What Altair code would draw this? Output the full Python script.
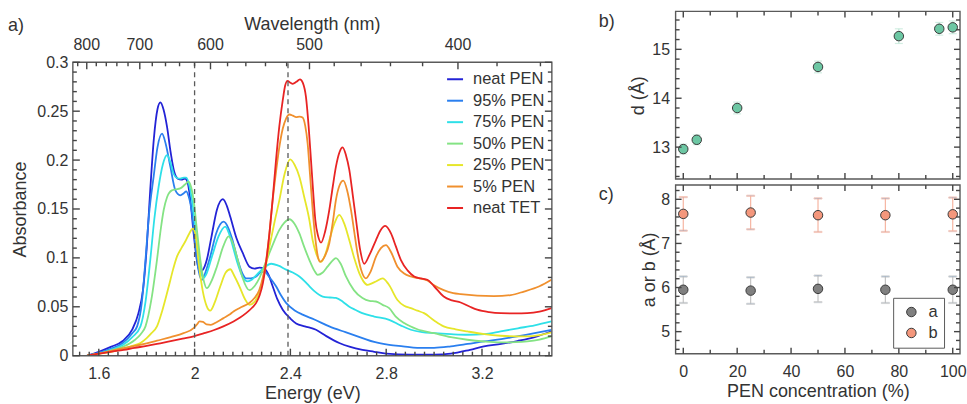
import altair as alt
import pandas as pd

FONT = "Liberation Sans"
TXT = "#333333"
FRAME = "#5a5a5a"

# ---------------- panel a : absorption spectra ----------------
series_names = ["neat PEN", "95% PEN", "75% PEN", "50% PEN", "25% PEN", "5% PEN", "neat TET"]
series_colors = ["#2323d6", "#2a7fef", "#2ee0e8", "#84e384", "#e6e62a", "#f0902e", "#e82424"]

neat_pen_E = [1.551, 1.60, 1.65, 1.70, 1.74, 1.765, 1.785, 1.80, 1.815, 1.83, 1.845, 1.857, 1.87, 1.885, 1.90,
              1.915, 1.93, 1.945, 1.96, 1.97, 1.982, 1.996, 2.010, 2.021, 2.035, 2.051, 2.07, 2.093, 2.118, 2.135,
              2.149, 2.175, 2.201, 2.229, 2.25, 2.271, 2.29, 2.31, 2.326, 2.345, 2.368, 2.40, 2.424, 2.46, 2.507,
              2.55, 2.604, 2.65, 2.701, 2.75, 2.80, 2.9, 3.0, 3.07, 3.15, 3.208, 3.28, 3.347, 3.42, 3.49]
neat_pen_A = [0.000, 0.004, 0.009, 0.015, 0.027, 0.043, 0.068, 0.110, 0.170, 0.222, 0.252, 0.259, 0.252, 0.234, 0.208,
              0.188, 0.181, 0.180, 0.181, 0.178, 0.160, 0.125, 0.097, 0.086, 0.088, 0.098, 0.121, 0.149, 0.160, 0.153,
              0.142, 0.120, 0.105, 0.091, 0.089, 0.090, 0.089, 0.082, 0.071, 0.058, 0.047, 0.038, 0.033, 0.030, 0.0265,
              0.020, 0.013, 0.009, 0.006, 0.004, 0.002, 0.001, 0.001, 0.002, 0.006, 0.0095, 0.012, 0.015, 0.019, 0.025]

pen95_E = [1.551, 1.60, 1.65, 1.70, 1.74, 1.76, 1.78, 1.795, 1.81, 1.829, 1.845, 1.864, 1.88, 1.899, 1.92, 1.94,
           1.955, 1.965, 1.975, 1.989, 2.00, 2.01, 2.03, 2.045, 2.065, 2.09, 2.121, 2.14, 2.156, 2.18, 2.20, 2.215,
           2.235, 2.257, 2.275, 2.292, 2.31, 2.34, 2.36, 2.382, 2.42, 2.451, 2.50, 2.5625, 2.63, 2.701, 2.75,
           2.8125, 2.87, 2.93, 3.0, 3.07, 3.14, 3.208, 3.28, 3.347, 3.42, 3.49]
pen95_A = [0.000, 0.003, 0.007, 0.013, 0.023, 0.030, 0.055, 0.098, 0.145, 0.183, 0.213, 0.227, 0.216, 0.193, 0.169,
           0.164, 0.166, 0.168, 0.163, 0.146, 0.122, 0.098, 0.0775, 0.085, 0.101, 0.125, 0.137, 0.131, 0.120, 0.098,
           0.084, 0.079, 0.079, 0.081, 0.085, 0.086, 0.081, 0.071, 0.062, 0.054, 0.046, 0.042, 0.037, 0.030, 0.024,
           0.018, 0.014, 0.011, 0.0095, 0.008, 0.008, 0.0095, 0.012, 0.0146, 0.017, 0.0197, 0.023, 0.0265]

pen75_E = [1.551, 1.60, 1.65, 1.70, 1.74, 1.774, 1.795, 1.815, 1.832, 1.85, 1.868, 1.885, 1.90, 1.9125, 1.925, 1.94,
           1.955, 1.965, 1.978, 1.989, 2.00, 2.01, 2.022, 2.035, 2.05, 2.072, 2.10, 2.128, 2.145, 2.16, 2.18, 2.20,
           2.222, 2.24, 2.264, 2.29, 2.32, 2.35, 2.382, 2.41, 2.4375, 2.46, 2.479, 2.50, 2.535, 2.565, 2.59, 2.62,
           2.646, 2.67, 2.70, 2.75, 2.8125, 2.86, 2.903, 2.95, 3.0, 3.07, 3.139, 3.21, 3.278, 3.35, 3.42, 3.49]
pen75_A = [0.000, 0.002, 0.006, 0.011, 0.019, 0.030, 0.055, 0.098, 0.140, 0.173, 0.196, 0.205, 0.197, 0.186, 0.182,
           0.181, 0.182, 0.182, 0.174, 0.159, 0.138, 0.115, 0.093, 0.079, 0.084, 0.101, 0.122, 0.132, 0.124, 0.1115,
           0.094, 0.081, 0.076, 0.078, 0.084, 0.090, 0.094, 0.092, 0.088, 0.085, 0.081, 0.076, 0.071, 0.066, 0.0605,
           0.0595, 0.059, 0.055, 0.050, 0.047, 0.0435, 0.040, 0.0367, 0.031, 0.0265, 0.024, 0.023, 0.022, 0.0214,
           0.022, 0.0248, 0.028, 0.031, 0.035]

pen50_E = [1.551, 1.60, 1.65, 1.70, 1.75, 1.775, 1.795, 1.82, 1.843, 1.858, 1.871, 1.885, 1.905, 1.92, 1.94, 1.96,
           1.975, 1.986, 1.996, 2.01, 2.024, 2.038, 2.051, 2.07, 2.093, 2.12, 2.142, 2.16, 2.18, 2.20, 2.229, 2.25,
           2.27, 2.29, 2.3125, 2.334, 2.354, 2.375, 2.396, 2.417, 2.4375, 2.458, 2.479, 2.50, 2.514, 2.535, 2.555,
           2.575, 2.59, 2.61, 2.632, 2.665, 2.701, 2.73, 2.757, 2.785, 2.8125, 2.84, 2.875, 2.93, 3.0, 3.07, 3.139,
           3.21, 3.278, 3.34, 3.389, 3.44, 3.49]
pen50_A = [0.000, 0.002, 0.005, 0.009, 0.016, 0.022, 0.030, 0.058, 0.098, 0.128, 0.149, 0.162, 0.169, 0.170, 0.171,
           0.175, 0.178, 0.172, 0.159, 0.128, 0.098, 0.077, 0.069, 0.076, 0.091, 0.112, 0.122, 0.115, 0.098, 0.080,
           0.067, 0.071, 0.079, 0.091, 0.105, 0.118, 0.1286, 0.136, 0.1395, 0.135, 0.125, 0.111, 0.098, 0.087, 0.0826,
           0.085, 0.091, 0.097, 0.0997, 0.094, 0.081, 0.067, 0.0589, 0.056, 0.0554, 0.052, 0.0486, 0.040, 0.0333,
           0.027, 0.023, 0.019, 0.0163, 0.0145, 0.0136, 0.0138, 0.0146, 0.0165, 0.0197]

pen25_E = [1.551, 1.60, 1.65, 1.70, 1.74, 1.774, 1.80, 1.82, 1.843, 1.865, 1.892, 1.91, 1.926, 1.945, 1.961, 1.978,
           1.992, 2.003, 2.017, 2.035, 2.05, 2.065, 2.085, 2.107, 2.13, 2.149, 2.165, 2.1875, 2.21, 2.229, 2.25, 2.27,
           2.29, 2.3125, 2.334, 2.354, 2.375, 2.399, 2.418, 2.4375, 2.458, 2.479, 2.493, 2.507, 2.528, 2.545, 2.5625,
           2.585, 2.604, 2.625, 2.646, 2.6675, 2.6875, 2.705, 2.722, 2.74, 2.757, 2.785, 2.81, 2.847, 2.875, 2.903,
           2.93, 2.958, 3.0, 3.04, 3.09, 3.139, 3.21, 3.278, 3.34, 3.389, 3.44, 3.49]
pen25_A = [0.000, 0.002, 0.004, 0.007, 0.010, 0.013, 0.018, 0.023, 0.030, 0.046, 0.0707, 0.088, 0.101, 0.110, 0.1167,
           0.125, 0.130, 0.125, 0.095, 0.065, 0.051, 0.046, 0.055, 0.0707, 0.085, 0.0884, 0.082, 0.0707, 0.058, 0.052,
           0.055, 0.064, 0.083, 0.1115, 0.137, 0.159, 0.185, 0.2007, 0.195, 0.183, 0.162, 0.139, 0.118, 0.105, 0.096,
           0.103, 0.118, 0.136, 0.144, 0.135, 0.118, 0.099, 0.0844, 0.076, 0.0724, 0.074, 0.0759, 0.079, 0.073, 0.057,
           0.051, 0.0486, 0.046, 0.0435, 0.036, 0.030, 0.027, 0.0248, 0.022, 0.0204, 0.0198, 0.0197, 0.021, 0.0238]

pen5_E = [1.551, 1.60, 1.65, 1.704, 1.75, 1.80, 1.843, 1.90, 1.954, 1.996, 2.01, 2.021, 2.035, 2.05, 2.068, 2.09,
          2.121, 2.146, 2.1625, 2.19, 2.229, 2.25, 2.27, 2.285, 2.299, 2.3125, 2.326, 2.34, 2.354, 2.368, 2.382,
          2.396, 2.41, 2.424, 2.438, 2.451, 2.462, 2.472, 2.482, 2.493, 2.505, 2.515, 2.524, 2.54, 2.5625, 2.578,
          2.59, 2.605, 2.621, 2.637, 2.653, 2.667, 2.68, 2.695, 2.715, 2.735, 2.757, 2.778, 2.799, 2.82, 2.847,
          2.875, 2.903, 2.94, 2.972, 3.0, 3.04, 3.08, 3.111, 3.18, 3.25, 3.32, 3.375, 3.44, 3.49]
pen5_A = [0.000, 0.002, 0.005, 0.0078, 0.010, 0.0125, 0.0153, 0.019, 0.023, 0.0282, 0.032, 0.035, 0.0345, 0.032,
          0.0316, 0.034, 0.0384, 0.042, 0.0452, 0.049, 0.054, 0.059, 0.067, 0.080, 0.098, 0.125, 0.159, 0.188, 0.2136,
          0.232, 0.2425, 0.2466, 0.2455, 0.244, 0.2445, 0.2435, 0.235, 0.217, 0.185, 0.149, 0.118, 0.101, 0.096,
          0.100, 0.115, 0.138, 0.159, 0.174, 0.179, 0.169, 0.149, 0.126, 0.105, 0.088, 0.079, 0.086, 0.101, 0.110,
          0.113, 0.106, 0.091, 0.084, 0.081, 0.079, 0.077, 0.072, 0.067, 0.064, 0.063, 0.0615, 0.061, 0.062, 0.0656,
          0.071, 0.0776]

tet_E = [1.551, 1.60, 1.65, 1.704, 1.75, 1.80, 1.843, 1.90, 1.95, 1.996, 2.04, 2.079, 2.12, 2.1625, 2.19, 2.215,
         2.24, 2.257, 2.272, 2.285, 2.30, 2.3125, 2.326, 2.34, 2.354, 2.368, 2.378, 2.388, 2.40, 2.41, 2.425, 2.440,
         2.452, 2.465, 2.476, 2.486, 2.495, 2.504, 2.516, 2.528, 2.545, 2.5625, 2.577, 2.59, 2.605, 2.618, 2.632,
         2.646, 2.66, 2.674, 2.69, 2.708, 2.73, 2.757, 2.776, 2.796, 2.82, 2.84, 2.861, 2.89, 2.917, 2.945, 2.972,
         3.0, 3.04, 3.075, 3.111, 3.15, 3.18, 3.23, 3.278, 3.34, 3.389, 3.44, 3.49]
tet_A = [0.000, 0.002, 0.004, 0.006, 0.008, 0.010, 0.012, 0.015, 0.0175, 0.0197, 0.023, 0.026, 0.030, 0.035, 0.039,
         0.0435, 0.049, 0.054, 0.062, 0.074, 0.098, 0.125, 0.160, 0.200, 0.235, 0.261, 0.276, 0.281, 0.279, 0.278,
         0.280, 0.2826, 0.279, 0.2646, 0.235, 0.200, 0.168, 0.139, 0.122, 0.1157, 0.127, 0.149, 0.173, 0.193, 0.208,
         0.213, 0.205, 0.190, 0.165, 0.139, 0.110, 0.094, 0.103, 0.118, 0.128, 0.1327, 0.125, 0.112, 0.098, 0.087,
         0.081, 0.079, 0.0776, 0.071, 0.0605, 0.0565, 0.0544, 0.050, 0.047, 0.0445, 0.0435, 0.0433, 0.0435, 0.045,
         0.0486]

spectra = [(neat_pen_E, neat_pen_A), (pen95_E, pen95_A), (pen75_E, pen75_A), (pen50_E, pen50_A),
           (pen25_E, pen25_A), (pen5_E, pen5_A), (tet_E, tet_A)]

dash_E = [2.0, 2.39]
energy_ticks = [1.6, 2.0, 2.4, 2.8, 3.2]
abs_ticks = [0, 0.05, 0.1, 0.15, 0.2, 0.25, 0.3]
wavelength_labels = [800, 700, 600, 500, 400]

# ---------------- panel b : d spacing ----------------
pen_b = [0, 5, 20, 50, 80, 95, 100]
d_val = [12.96, 13.15, 13.80, 14.64, 15.27, 15.42, 15.45]
d_err = [0.10, 0.10, 0.12, 0.12, 0.15, 0.13, 0.13]

# ---------------- panel c : a and b lattice ----------------
pen_c = [0, 25, 50, 75, 100]
a_val = [5.95, 5.93, 5.97, 5.95, 5.95]
a_err = [0.30, 0.30, 0.30, 0.30, 0.30]
b_val = [7.67, 7.70, 7.64, 7.64, 7.66]
b_err = [0.38, 0.38, 0.38, 0.38, 0.38]

# ---------------- geometry ----------------
TOP_A = 51            # room above panel a frame for the wavelength axis
WA, HA = 480, 294
HA_FULL = HA + TOP_A
WB, HB = 285, 168
WC, HC = 285, 169

EMIN, EMAX = 1.4917, 3.4917
BCMIN, BCMAX = -2.85, 102.7
DMIN, DMAX = 12.347, 15.776
CMIN, CMAX = 4.50, 8.324

xs_a = alt.Scale(domain=[EMIN, EMAX], nice=False, zero=False)
ys_a = alt.Scale(domain=[0, 0.3], range=[HA_FULL, TOP_A], nice=False, zero=False)
xs_bc = alt.Scale(domain=[BCMIN, BCMAX], nice=False, zero=False)
ys_b = alt.Scale(domain=[DMIN, DMAX], nice=False, zero=False)
ys_c = alt.Scale(domain=[CMIN, CMAX], nice=False, zero=False)

LAB = 16
TIT = 18
TICK_COLOR = "#444444"

ax_a_x = alt.Axis(values=energy_ticks, format="~g", ticks=False, domain=False, labelPadding=10,
                  title="Energy (eV)", titlePadding=3, labelFlush=False, labelOverlap=False, grid=False)
ax_a_y = alt.Axis(values=abs_ticks, format="~g", ticks=False, domain=False, labelPadding=5,
                  title="Absorbance", titlePadding=7, labelFlush=False, labelOverlap=False, grid=False)
ax_b_y = alt.Axis(values=[13, 14, 15], ticks=False, domain=False, labelPadding=6, title="d (Å)",
                  titlePadding=4, labelFlush=False, labelOverlap=False, grid=False)
ax_c_x = alt.Axis(values=[0, 20, 40, 60, 80, 100], ticks=False, domain=False, labelPadding=10,
                  title="PEN concentration (%)", titlePadding=3, labelFlush=False, labelOverlap=False, grid=False)
ax_c_y = alt.Axis(values=[5, 6, 7, 8], ticks=False, domain=False, labelPadding=6, title="a or b (Å)",
                  titlePadding=2, labelFlush=False, labelOverlap=False, grid=False)


def grid(lo, hi, step):
    n = int(round((hi - lo) / step))
    return [round(lo + i * step, 6) for i in range(n + 1)]


def minor_only(vals, major_step):
    return [v for v in vals if abs(round(v / major_step) * major_step - v) > 1e-6]


def edge_ticks(vals, side, size, xs, xax, ys, yax, x0, x1, y0, y1):
    """inward tick marks on one side of a frame whose pixel box is x0..x1, y0..y1"""
    df = pd.DataFrame({"v": list(vals)})
    if side in ("left", "right"):
        xc = x0 + size / 2.0 if side == "left" else x1 - size / 2.0
        return alt.Chart(df).mark_tick(color=TICK_COLOR, orient="horizontal", size=size, thickness=1.4,
                                       opacity=1).encode(
            y=alt.Y("v:Q", scale=ys, axis=yax), x=alt.value(xc))
    yc = y0 + size / 2.0 if side == "top" else y1 - size / 2.0
    return alt.Chart(df).mark_tick(color=TICK_COLOR, orient="vertical", size=size, thickness=1.4,
                                   opacity=1).encode(
        x=alt.X("v:Q", scale=xs, axis=xax), y=alt.value(yc))


def frame_layers(xdom, ydom, xs, xax, ys, yax, box, xmaj, xmin, ymaj, ymin, xtop_maj=None, xtop_min=None,
                 big=7, small=4):
    x0, x1, y0, y1 = box
    fr = pd.DataFrame({"xa": [xdom[0]], "xb": [xdom[1]], "ya": [ydom[0]], "yb": [ydom[1]]})
    layers = [alt.Chart(fr).mark_rect(fill="transparent", stroke=FRAME, strokeWidth=1.4).encode(
        x=alt.X("xa:Q", scale=xs, axis=xax), x2="xb:Q", y=alt.Y("ya:Q", scale=ys, axis=yax), y2="yb:Q")]
    for side in ("left", "right"):
        layers.append(edge_ticks(ymaj, side, big, xs, xax, ys, yax, x0, x1, y0, y1))
        layers.append(edge_ticks(ymin, side, small, xs, xax, ys, yax, x0, x1, y0, y1))
    layers.append(edge_ticks(xmaj, "bottom", big, xs, xax, ys, yax, x0, x1, y0, y1))
    layers.append(edge_ticks(xmin, "bottom", small, xs, xax, ys, yax, x0, x1, y0, y1))
    layers.append(edge_ticks(xtop_maj if xtop_maj is not None else xmaj, "top", big, xs, xax, ys, yax,
                             x0, x1, y0, y1))
    layers.append(edge_ticks(xtop_min if xtop_min is not None else xmin, "top", small, xs, xax, ys, yax,
                             x0, x1, y0, y1))
    return layers


def text_layer(text, x, y, size, align="left"):
    return alt.Chart(pd.DataFrame({"t": [text]})).mark_text(
        font=FONT, fontSize=size, color=TXT, align=align, baseline="middle"
    ).encode(text="t:N", x=alt.value(x), y=alt.value(y))


# ---- panel a ----
rows = []
for name, (es, av) in zip(series_names, spectra):
    for e, a in zip(es, av):
        rows.append({"series": name, "E": e, "A": a})
spec_df = pd.DataFrame(rows)

lines = alt.Chart(spec_df).mark_line(strokeWidth=1.8, interpolate="monotone", clip=True).encode(
    x=alt.X("E:Q", scale=xs_a, axis=ax_a_x),
    y=alt.Y("A:Q", scale=ys_a, axis=ax_a_y),
    color=alt.Color("series:N", scale=alt.Scale(domain=series_names, range=series_colors),
                    legend=alt.Legend(title=None, orient="none", legendX=374, legendY=TOP_A + 8,
                                      symbolType="stroke", symbolSize=256, symbolStrokeWidth=2,
                                      labelFontSize=16.5, rowPadding=3.5, labelOffset=9, padding=0)),
    order=alt.Order("E:Q"),
)

dash_df = pd.DataFrame({"E": dash_E, "lo": [0.0] * len(dash_E), "hi": [0.3] * len(dash_E)})
dash = alt.Chart(dash_df).mark_rule(color=FRAME, strokeWidth=1.3, strokeDash=[5, 4]).encode(
    x=alt.X("E:Q", scale=xs_a, axis=ax_a_x), y=alt.Y("lo:Q", scale=ys_a, axis=ax_a_y), y2="hi:Q")

top_df = pd.DataFrame({"E": [1239.84 / w for w in wavelength_labels], "lab": [str(w) for w in wavelength_labels]})
top_labels = alt.Chart(top_df).mark_text(font=FONT, fontSize=LAB, color=TXT, baseline="middle").encode(
    x=alt.X("E:Q", scale=xs_a, axis=ax_a_x), y=alt.value(TOP_A - 17), text="lab:N")

wl_minor = [1239.84 / w for w in range(820, 340, -20) if w % 100 != 0 and EMIN < 1239.84 / w < EMAX]
wl_major = [1239.84 / w for w in wavelength_labels]

a_frame = frame_layers((EMIN, EMAX), (0, 0.3), xs_a, ax_a_x, ys_a, ax_a_y, (0, WA, TOP_A, HA_FULL),
                       grid(1.6, 3.2, 0.4), minor_only(grid(1.52, 3.48, 0.04), 0.4),
                       grid(0, 0.3, 0.05), minor_only(grid(0, 0.3, 0.01), 0.05),
                       xtop_maj=wl_major, xtop_min=wl_minor)

panel_a = alt.layer(
    lines, dash, *a_frame, top_labels,
    text_layer("Wavelength (nm)", WA / 2, 14, TIT, align="center"),
    text_layer("a)", -65, 15, TIT),
).properties(width=WA, height=HA_FULL)

# ---- panel b ----
b_df = pd.DataFrame({"pen": pen_b, "d": d_val,
                     "lo": [v - e for v, e in zip(d_val, d_err)], "hi": [v + e for v, e in zip(d_val, d_err)]})
b_err_rule = alt.Chart(b_df).mark_rule(color="#bfe6d6", strokeWidth=1.2).encode(
    x=alt.X("pen:Q", scale=xs_bc, axis=None), y=alt.Y("lo:Q", scale=ys_b, axis=ax_b_y), y2="hi:Q")
b_err_cap = alt.Chart(b_df).transform_fold(["lo", "hi"], as_=["k", "yv"]).mark_tick(
    color="#bfe6d6", orient="horizontal", size=8, thickness=1.2).encode(
    x=alt.X("pen:Q", scale=xs_bc, axis=None), y=alt.Y("yv:Q", scale=ys_b, axis=ax_b_y))
b_pts = alt.Chart(b_df).mark_circle(size=90, color="#6cc7a3", opacity=1, stroke="#3a3a3a", strokeWidth=1).encode(
    x=alt.X("pen:Q", scale=xs_bc, axis=None), y=alt.Y("d:Q", scale=ys_b, axis=ax_b_y))
b_frame = frame_layers((BCMIN, BCMAX), (DMIN, DMAX), xs_bc, None, ys_b, ax_b_y, (0, WB, 0, HB),
                       grid(0, 100, 20), grid(10, 90, 20), grid(13, 15, 1), minor_only(grid(12.4, 15.6, 0.2), 1),
                       big=6, small=4)
panel_b = alt.layer(b_err_rule, b_err_cap, b_pts, *b_frame, text_layer("b)", -77, 11, TIT)).properties(
    width=WB, height=HB)

# ---- panel c ----
c_rows = []
for p, v, e in zip(pen_c, a_val, a_err):
    c_rows.append({"pen": p, "param": "a", "errgroup": "a err", "val": v, "lo": v - e, "hi": v + e})
for p, v, e in zip(pen_c, b_val, b_err):
    c_rows.append({"pen": p, "param": "b", "errgroup": "b err", "val": v, "lo": v - e, "hi": v + e})
c_df = pd.DataFrame(c_rows)
err_scale = alt.Scale(domain=["a err", "b err"], range=["#c4c4c4", "#f6b5a2"])
c_err_rule = alt.Chart(c_df).mark_rule(strokeWidth=1.2).encode(
    x=alt.X("pen:Q", scale=xs_bc, axis=ax_c_x), y=alt.Y("lo:Q", scale=ys_c, axis=ax_c_y), y2="hi:Q",
    stroke=alt.Stroke("errgroup:N", scale=err_scale, legend=None))
c_err_cap = alt.Chart(c_df).transform_fold(["lo", "hi"], as_=["k", "yv"]).mark_tick(
    orient="horizontal", size=8, thickness=1.2).encode(
    x=alt.X("pen:Q", scale=xs_bc, axis=ax_c_x), y=alt.Y("yv:Q", scale=ys_c, axis=ax_c_y),
    stroke=alt.Stroke("errgroup:N", scale=err_scale, legend=None))
c_pts = alt.Chart(c_df).mark_circle(size=90, opacity=1, stroke="#3a3a3a", strokeWidth=1).encode(
    x=alt.X("pen:Q", scale=xs_bc, axis=ax_c_x),
    y=alt.Y("val:Q", scale=ys_c, axis=ax_c_y),
    color=alt.Color("param:N", scale=alt.Scale(domain=["a", "b"], range=["#808080", "#f4977c"]),
                    legend=alt.Legend(title=None, orient="none", legendX=218, legendY=113,
                                      strokeColor=FRAME, fillColor="white", padding=6,
                                      symbolType="circle", symbolSize=90, symbolStrokeColor="#3a3a3a",
                                      symbolStrokeWidth=1, symbolOpacity=1, labelFontSize=16.5,
                                      rowPadding=4, symbolOffset=4, labelOffset=9)))
c_frame = frame_layers((BCMIN, BCMAX), (CMIN, CMAX), xs_bc, ax_c_x, ys_c, ax_c_y, (0, WC, 0, HC),
                       grid(0, 100, 20), grid(10, 90, 20), grid(5, 8, 1), minor_only(grid(4.6, 8.2, 0.2), 1),
                       big=6, small=4)
panel_c = alt.layer(c_err_rule, c_err_cap, c_pts, *c_frame, text_layer("c)", -77, 10, TIT)).properties(
    width=WC, height=HC)

right = alt.vconcat(panel_b, panel_c, spacing=4).resolve_scale(color="independent", stroke="independent")

chart = alt.hconcat(panel_a, right, spacing=46).resolve_scale(
    color="independent", stroke="independent"
).properties(
    padding={"left": 8, "top": 10, "right": 0, "bottom": 0},
    background="white",
).configure_view(stroke=None).configure_axis(
    labelFont=FONT, titleFont=FONT, labelColor=TXT, titleColor=TXT, labelFontSize=LAB, titleFontSize=TIT,
    titleFontWeight="normal", grid=False
).configure_legend(labelFont=FONT, labelColor=TXT)

chart.save("out.html", embed_options={"renderer": "svg", "actions": False})
